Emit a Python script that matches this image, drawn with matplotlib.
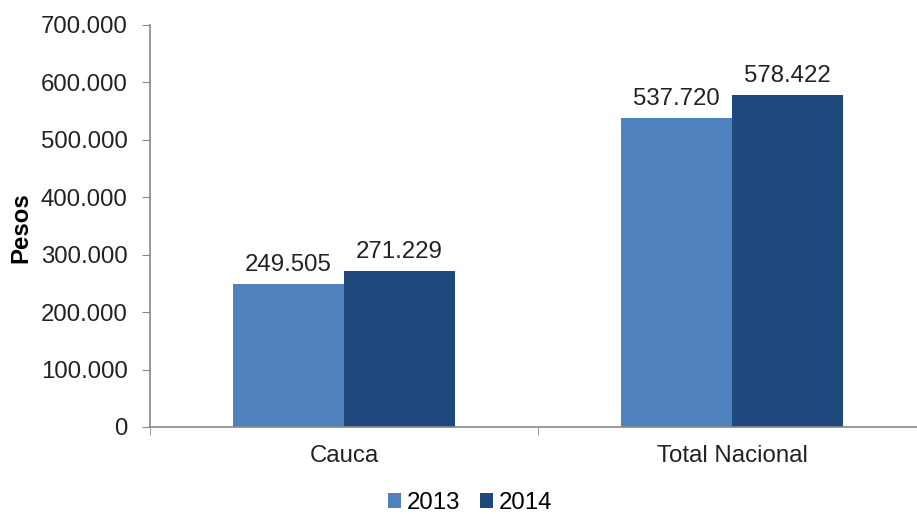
import matplotlib
matplotlib.use("Agg")
import matplotlib.pyplot as plt
from matplotlib.ticker import FuncFormatter, FixedLocator

# data
categories = ["Cauca", "Total Nacional"]
years = ["2013", "2014"]
values_2013 = [249505, 537720]
values_2014 = [271229, 578422]
colors = ["#4F81BD", "#1F497D"]

plt.rcParams['font.family'] = ['Liberation Sans', 'DejaVu Sans']
FS = 17.3

fig = plt.figure(figsize=(9.17, 5.14), dpi=100)
ax = fig.add_axes([0.1636, 0.1693, 0.8364, 0.7821])

bw = 0.286
xs = range(len(categories))
for i, (vals, yr, c) in enumerate(zip([values_2013, values_2014], years, colors)):
    pos = [x + (i - 0.5) * bw for x in xs]
    bars = ax.bar(pos, vals, width=bw, color=c, label=yr, zorder=2)
    for b, v in zip(bars, vals):
        ax.text(b.get_x() + b.get_width() / 2, v + 13500,
                f"{v:,}".replace(",", "."), ha='center', va='bottom',
                fontsize=FS, color='#222222')

ax.set_ylim(0, 700000)
ax.set_xlim(-0.5, 1.477)
ax.set_yticks(range(0, 700001, 100000))
ax.yaxis.set_major_formatter(FuncFormatter(lambda v, p: f"{int(v):,}".replace(",", ".")))
ax.set_xticks(list(xs))
ax.set_xticklabels(categories)
ax.xaxis.set_minor_locator(FixedLocator([-0.5, 0.5, 1.5]))
ax.tick_params(axis='x', which='major', length=0, pad=13, labelsize=FS, labelcolor='#222222')
ax.tick_params(axis='x', which='minor', length=6, color='#888888', direction='out')
ax.tick_params(axis='y', length=6, color='#888888', labelsize=FS, labelcolor='#222222', pad=10)

for s in ['top', 'right']:
    ax.spines[s].set_visible(False)
for s in ['left', 'bottom']:
    ax.spines[s].set_color('#888888')
    ax.spines[s].set_linewidth(1.2)

ax.set_ylabel("Pesos", fontsize=FS, fontweight='bold')
ax.yaxis.set_label_coords(-0.154, 0.495)

fig.legend(loc='center', bbox_to_anchor=(470 / 917, 1 - 503 / 514), ncol=2, frameon=False,
           fontsize=FS, handlelength=0.55, handleheight=0.55, handletextpad=0.25,
           columnspacing=0.8, borderpad=0)

fig.savefig("out.png", dpi=100)
